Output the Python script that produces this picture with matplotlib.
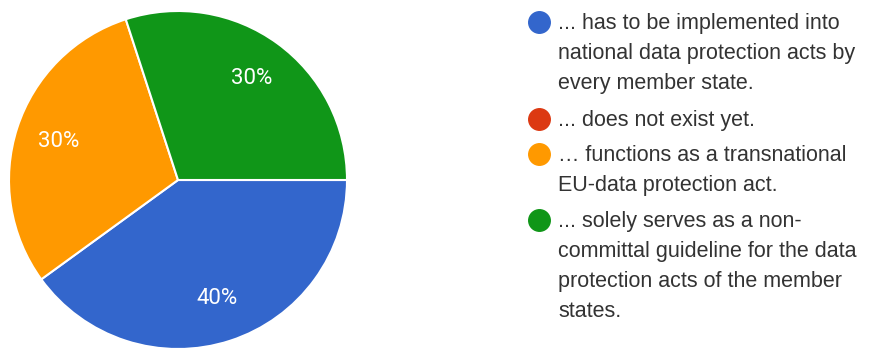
import matplotlib.pyplot as plt

plt.rcParams['font.family'] = ['Liberation Sans', 'DejaVu Sans']

# data
answers = [
    "... has to be implemented into\nnational data protection acts by\nevery member state.",
    "... does not exist yet.",
    "\u2026 functions as a transnational\nEU-data protection act.",
    "... solely serves as a non-\ncommittal guideline for the data\nprotection acts of the member\nstates.",
]
shares = [40, 0, 30, 30]
colors = ['#3366cc', '#dc3912', '#ff9900', '#109618']

W, H = 877, 348
fig = plt.figure(figsize=(W / 100, H / 100), dpi=100)

# pie axes: centre (178, 180) px, radius 169 px
cx, cy, r = 178, 180, 169
ax = fig.add_axes([(cx - r) / W, (H - cy - r) / H, 2 * r / W, 2 * r / H])
vals = [v for v in shares if v > 0]
cols = [c for v, c in zip(shares, colors) if v > 0]
wedges, texts, autotexts = ax.pie(
    vals, colors=cols, startangle=0, counterclock=False, radius=1,
    autopct='%1.0f%%', pctdistance=0.74,
    wedgeprops=dict(edgecolor='white', linewidth=1.5),
    textprops=dict(color='white', fontsize=16, family=['Roboto', 'DejaVu Sans']))
ax.set_xlim(-1, 1)
ax.set_ylim(-1, 1)
ax.set_aspect('equal')
ax.axis('off')

# legend drawn by hand (baselines in px from top)
line_h = 30
baselines = [29, 126, 161, 227]
for txt, col, b0 in zip(answers, colors, baselines):
    fig.lines.append(plt.Line2D([539 / W], [1 - (b0 - 7) / H], marker='o', markersize=15.5,
                                color=col, transform=fig.transFigure))
    for i, line in enumerate(txt.split('\n')):
        fig.text(558 / W, 1 - (b0 + i * line_h) / H, line, fontsize=15.5,
                 color='#333333', va='baseline', ha='left')

fig.savefig('out.png', dpi=100)
